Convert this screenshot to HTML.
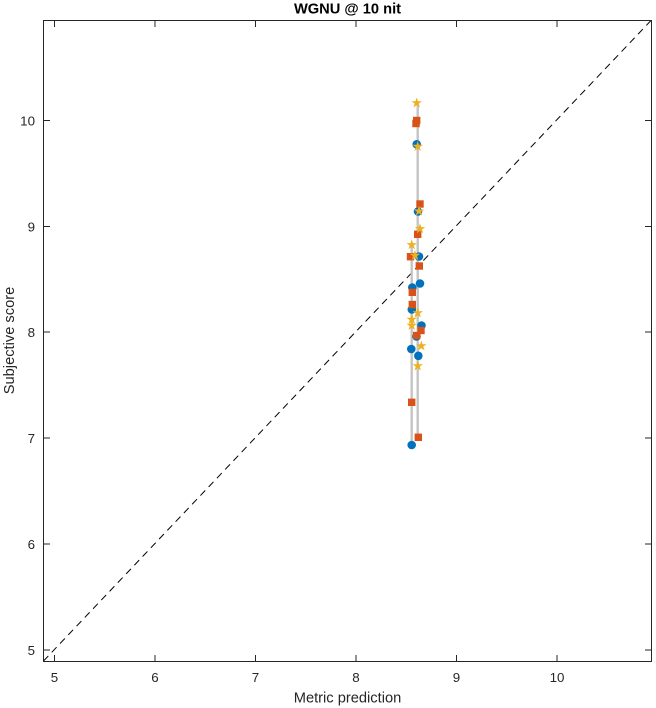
<!DOCTYPE html>
<html>
<head>
<meta charset="utf-8">
<style>
  html,body{margin:0;padding:0;background:#fff;}
  svg{display:block;}
  text{font-family:"Liberation Sans",Arial,sans-serif;fill:#262626;}
</style>
</head>
<body>
<svg width="656" height="708" viewBox="0 0 656 708" xmlns="http://www.w3.org/2000/svg">
  <defs>
    <path id="star" d="M0,-5.5 L1.235,-1.699 L5.231,-1.7 L1.997,0.649 L3.233,4.45 L0,2.1 L-3.233,4.45 L-1.997,0.649 L-5.231,-1.7 L-1.235,-1.699 Z"/>
  </defs>
  <rect x="0" y="0" width="656" height="708" fill="#fff"/>

  <!-- diagonal -->
  <line x1="43.5" y1="661" x2="651" y2="20.5" stroke="#000" stroke-width="1" stroke-dasharray="7,5"/>

  <!-- gray vertical lines -->
  <line x1="411.7" y1="244" x2="411.7" y2="445" stroke="#c4c4c4" stroke-width="2.4"/>
  <line x1="417.7" y1="102" x2="417.7" y2="437" stroke="#c4c4c4" stroke-width="2.4"/>

  <!-- circles -->
  <g fill="#0072BD">
    <circle cx="416.7" cy="144.3" r="4.3"/>
    <circle cx="418" cy="211.5" r="4.3"/>
    <circle cx="419" cy="256.5" r="4.3"/>
    <circle cx="420" cy="283.5" r="4.3"/>
    <circle cx="412.3" cy="287.5" r="4.3"/>
    <circle cx="411.8" cy="309.5" r="4.3"/>
    <circle cx="421.5" cy="325.5" r="4.3"/>
    <circle cx="416.5" cy="336.5" r="4.3"/>
    <circle cx="411.3" cy="349" r="4.3"/>
    <circle cx="418.3" cy="355.8" r="4.3"/>
    <circle cx="411.7" cy="445" r="4.3"/>
  </g>

  <!-- squares -->
  <g fill="#D95319">
    <rect x="413" y="116.8" width="7.4" height="7.4"/>
    <rect x="412.3" y="119.8" width="7.4" height="7.4"/>
    <rect x="416.3" y="200.3" width="7.4" height="7.4"/>
    <rect x="414" y="230.6" width="7.4" height="7.4"/>
    <rect x="406.8" y="253" width="7.4" height="7.4"/>
    <rect x="415.6" y="262.3" width="7.4" height="7.4"/>
    <rect x="408.6" y="288.6" width="7.4" height="7.4"/>
    <rect x="408.6" y="300.8" width="7.4" height="7.4"/>
    <rect x="417.3" y="326.8" width="7.4" height="7.4"/>
    <rect x="413" y="331.8" width="7.4" height="7.4"/>
    <rect x="408" y="398.6" width="7.4" height="7.4"/>
    <rect x="414.6" y="433.6" width="7.4" height="7.4"/>
  </g>

  <!-- stars -->
  <g fill="#EDB120">
    <use href="#star" x="416.7" y="103"/>
    <use href="#star" x="417.7" y="146.5"/>
    <use href="#star" x="419" y="211.2"/>
    <use href="#star" x="420" y="228.8"/>
    <use href="#star" x="411.7" y="244.8"/>
    <use href="#star" x="415" y="255.5"/>
    <use href="#star" x="417.7" y="313"/>
    <use href="#star" x="411.7" y="319.5"/>
    <use href="#star" x="411.7" y="325.5"/>
    <use href="#star" x="421.3" y="346"/>
    <use href="#star" x="417.7" y="366"/>
  </g>

  <!-- axes box -->
  <rect x="43.5" y="20.5" width="608" height="641" fill="none" stroke="#262626" stroke-width="1"/>

  <!-- x ticks -->
  <g stroke="#262626" stroke-width="1">
    <line x1="54.5" y1="661" x2="54.5" y2="655"/>
    <line x1="155" y1="661" x2="155" y2="655"/>
    <line x1="255.5" y1="661" x2="255.5" y2="655"/>
    <line x1="356" y1="661" x2="356" y2="655"/>
    <line x1="456.5" y1="661" x2="456.5" y2="655"/>
    <line x1="557" y1="661" x2="557" y2="655"/>
    <line x1="54.5" y1="21" x2="54.5" y2="27"/>
    <line x1="155" y1="21" x2="155" y2="27"/>
    <line x1="255.5" y1="21" x2="255.5" y2="27"/>
    <line x1="356" y1="21" x2="356" y2="27"/>
    <line x1="456.5" y1="21" x2="456.5" y2="27"/>
    <line x1="557" y1="21" x2="557" y2="27"/>
    <!-- y ticks -->
    <line x1="44" y1="650" x2="50" y2="650"/>
    <line x1="44" y1="544" x2="50" y2="544"/>
    <line x1="44" y1="438" x2="50" y2="438"/>
    <line x1="44" y1="332" x2="50" y2="332"/>
    <line x1="44" y1="226.5" x2="50" y2="226.5"/>
    <line x1="44" y1="120.5" x2="50" y2="120.5"/>
    <line x1="651" y1="650" x2="645" y2="650"/>
    <line x1="651" y1="544" x2="645" y2="544"/>
    <line x1="651" y1="438" x2="645" y2="438"/>
    <line x1="651" y1="332" x2="645" y2="332"/>
    <line x1="651" y1="226.5" x2="645" y2="226.5"/>
    <line x1="651" y1="120.5" x2="645" y2="120.5"/>
  </g>

  <!-- x tick labels -->
  <g font-size="13.33" text-anchor="middle">
    <text x="54.5" y="682">5</text>
    <text x="155" y="682">6</text>
    <text x="255.5" y="682">7</text>
    <text x="356" y="682">8</text>
    <text x="456.5" y="682">9</text>
    <text x="557" y="682">10</text>
  </g>
  <!-- y tick labels -->
  <g font-size="13.33" text-anchor="end">
    <text x="35" y="654.8">5</text>
    <text x="35" y="548.8">6</text>
    <text x="35" y="442.8">7</text>
    <text x="35" y="336.8">8</text>
    <text x="35" y="231.3">9</text>
    <text x="35" y="125.3">10</text>
  </g>

  <!-- labels -->
  <text x="347.5" y="702.5" font-size="14.67" text-anchor="middle">Metric prediction</text>
  <text transform="translate(14,340.5) rotate(-90)" font-size="14.67" text-anchor="middle">Subjective score</text>
  <text x="347.5" y="13.5" font-size="14.67" font-weight="bold" text-anchor="middle" style="fill:#000">WGNU @ 10 nit</text>
</svg>
</body>
</html>
